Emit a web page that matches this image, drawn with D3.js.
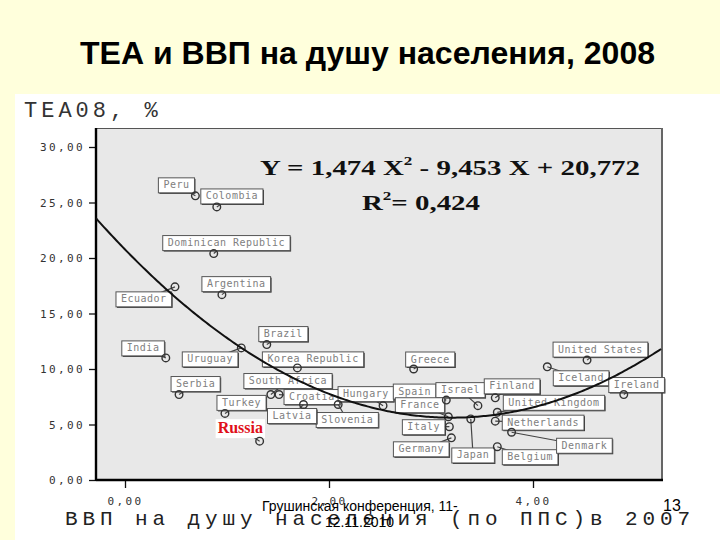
<!DOCTYPE html>
<html><head><meta charset="utf-8">
<script src="https://cdn.jsdelivr.net/npm/d3@7/dist/d3.min.js"></script>
<style>body{margin:0;background:#FFFFDC;} svg{display:block}</style>
</head><body>
<svg id="c" width="720" height="540"></svg>
<script>
// ---- data ----
const countries = ["Peru","Colombia","Dominican Republic","Argentina","Ecuador","Brazil","India","Uruguay","Korea Republic","Greece","United States","Serbia","South Africa","Croatia","Hungary","Slovenia","Latvia","Turkey","Russia","Iceland","Ireland","Spain","Israel","Finland","France","United Kingdom","Netherlands","Italy","Germany","Japan","Belgium","Denmark"];
const gdp = [0.69,0.90,0.87,0.95,0.49,1.39,0.40,1.14,1.69,2.83,4.53,0.53,1.43,1.51,2.53,2.09,1.75,0.98,1.32,4.14,4.89,3.15,3.46,3.63,3.17,3.65,3.63,3.18,3.20,3.39,3.65,3.79];
const tea = [25.6,24.6,20.4,16.7,17.4,12.2,11.0,11.9,10.1,10.0,10.8,7.7,7.7,7.7,6.7,6.8,6.8,6.0,3.5,10.2,7.7,7.2,6.7,7.4,5.7,6.1,5.3,4.8,3.8,5.5,3.0,4.3];
const yTicks = [0,5,10,15,20,25,30];
const xTicks = [0,2,4];
const fitCoef = [20.772, -9.453, 1.474]; // c0, c1, c2
const r2 = "0,424";
// ---- layout (label box offsets relative to point, px) ----
const labelDx = [-37,-16,-51,-20,-59,-8,-44,-59,-35,-8,-34,-8,-27,5,-45,-22,-36,-8,-44,6,-15,-53,-42,-11,-53,6,7,-47,-58,-19,5,45];
const labelDy = [-18,-18,-18,-18,5,-18,-17,4,-16,-17,-18,-18,-21,-5,-19,8,4,-18,-22,4,-17,-16,-23,-19,-19,-17,-6,-7,4,29,3,6];

const svg = d3.select("#c");
// slide white image area
svg.append("rect").attr("x",15).attr("y",94).attr("width",705).attr("height",446).attr("fill","#fff");

const plot = {l:96, r:662, t:128, b:480};
const x = d3.scaleLinear().domain([0,4]).range([125,533]);
const y = d3.scaleLinear().domain([0,30]).range([480,147]);

svg.append("rect").attr("x",plot.l).attr("y",plot.t).attr("width",plot.r-plot.l).attr("height",plot.b-plot.t)
  .attr("fill","#e8e8e8").attr("stroke","none");
svg.append("line").attr("x1",plot.l).attr("x2",plot.r).attr("y1",plot.t+0.5).attr("y2",plot.t+0.5).attr("stroke","#555").attr("stroke-width",1);
svg.append("line").attr("x1",plot.r).attr("x2",plot.r).attr("y1",plot.t).attr("y2",plot.b).attr("stroke","#666").attr("stroke-width",2);

const fmt = v => d3.format(".2f")(v).replace(".", ",");
const yAxis = svg.append("g").attr("transform",`translate(${plot.l},0)`)
  .call(d3.axisLeft(y).tickValues(yTicks).tickSize(7).tickPadding(4).tickFormat(fmt));
const xAxis = svg.append("g").attr("transform",`translate(0,${plot.b})`)
  .call(d3.axisBottom(x).tickValues(xTicks).tickSize(8).tickPadding(9).tickFormat(fmt));
[yAxis,xAxis].forEach(g=>{
  g.select(".domain").remove();
  g.selectAll(".tick line").attr("stroke","#111").attr("stroke-width",1.3);
  g.selectAll(".tick text").attr("font-family","DejaVu Sans Mono").attr("font-size",11)
    .attr("letter-spacing","2.4px").attr("fill","#333");
});
svg.append("line").attr("x1",plot.l).attr("x2",plot.l).attr("y1",plot.t).attr("y2",plot.b+1).attr("stroke","#000").attr("stroke-width",2.4);
svg.append("line").attr("x1",plot.l).attr("x2",plot.r+1).attr("y1",plot.b).attr("y2",plot.b).attr("stroke","#000").attr("stroke-width",2.4);

const pts = countries.map((c,i)=>({name:c, gx:gdp[i], ty:tea[i], dx:labelDx[i], dy:labelDy[i]}));

// labels
const lab = svg.append("g");
pts.forEach(p=>{
  const px = x(p.gx), py = y(p.ty);
  const g = lab.append("g");
  const isRu = p.name === "Russia";
  const t = g.append("text").text(p.name)
    .attr("font-family", isRu ? "Liberation Serif" : "DejaVu Sans Mono")
    .attr("font-size", isRu ? 16 : 10)
    .attr("font-weight", isRu ? "bold" : "normal")
    .attr("letter-spacing", isRu ? "0px" : "0.5px")
    .attr("fill", isRu ? "#e0101a" : "#808080");
  const tw = t.node().getComputedTextLength();
  const bw = tw + (isRu ? 4 : 10), bh = isRu ? 19 : 15;
  const bx = px + p.dx, by = py + p.dy;
  g.insert("line","text").attr("x1",bx+bw/2).attr("y1",by+bh/2).attr("x2",px).attr("y2",py)
    .attr("stroke","#444").attr("stroke-width",1.2);
  if(!isRu){
    g.insert("rect","text").attr("x",bx+1).attr("y",by+1).attr("width",bw).attr("height",bh).attr("fill","#333");
  }
  g.insert("rect","text").attr("x",bx).attr("y",by).attr("width",bw).attr("height",bh)
    .attr("fill","#fff").attr("stroke", isRu ? "none" : "#555").attr("stroke-width",1);
  t.attr("x", bx + (isRu ? 2 : 5)).attr("y", by + (isRu ? 14 : 10.5));
});

// points
svg.append("g").selectAll("circle").data(pts).join("circle")
  .attr("cx",d=>x(d.gx)).attr("cy",d=>y(d.ty)).attr("r",3.8)
  .attr("fill","none").attr("stroke","#333").attr("stroke-width",1.4);

// quadratic fit curve
const fx = v => fitCoef[0] + fitCoef[1]*v + fitCoef[2]*v*v;
const xs = d3.range(x.invert(plot.l), x.invert(plot.r)+0.001, 0.02);
const line = d3.line().x(v=>x(v)).y(v=>y(fx(v)));
svg.append("path").datum(xs).attr("d",line).attr("fill","none").attr("stroke","#111").attr("stroke-width",2);

// equation
const eq = svg.append("text").attr("x",260).attr("y",175).attr("font-family","Liberation Serif")
  .attr("font-weight","bold").attr("font-size",22).attr("fill","#111")
  .attr("textLength",380).attr("lengthAdjust","spacingAndGlyphs");
eq.append("tspan").text(`Y = ${String(fitCoef[2]).replace(".",",")} X`);
eq.append("tspan").text("2").attr("font-size",13).attr("dy",-10);
eq.append("tspan").text(`  - ${String(-fitCoef[1]).replace(".",",")} X + ${String(fitCoef[0]).replace(".",",")}`).attr("font-size",22).attr("dy",10);
const rr = svg.append("text").attr("x",362).attr("y",210).attr("font-family","Liberation Serif")
  .attr("font-weight","bold").attr("font-size",22).attr("fill","#111")
  .attr("textLength",118).attr("lengthAdjust","spacingAndGlyphs");
rr.append("tspan").text("R");
rr.append("tspan").text("2").attr("font-size",13).attr("dy",-10);
rr.append("tspan").text("= " + r2).attr("dy",10);

// axis titles
svg.append("text").attr("x",24).attr("y",117).text("TEA08, %")
  .attr("font-family","Liberation Mono").attr("font-size",22).attr("letter-spacing","4px").attr("fill","#333");
svg.append("text").attr("x",65).attr("y",525).text("ВВП на душу населения (по ППС)в 2007")
  .attr("font-family","Liberation Mono").attr("font-size",21).attr("letter-spacing","4.9px").attr("fill","#222");

// slide title & footer
svg.append("text").attr("x",80).attr("y",64).text("ТЕА и ВВП на душу населения, 2008")
  .attr("font-family","Liberation Sans").attr("font-weight","bold").attr("font-size",31).attr("fill","#000")
  .attr("textLength",575).attr("lengthAdjust","spacingAndGlyphs");
svg.append("text").attr("x",262).attr("y",511).text("Грушинская конференция, 11-")
  .attr("font-family","Liberation Sans").attr("font-size",14).attr("fill","#000");
svg.append("text").attr("x",325).attr("y",527).text("12.11.2010")
  .attr("font-family","Liberation Sans").attr("font-size",14).attr("fill","#000");
svg.append("text").attr("x",663).attr("y",511).text("13")
  .attr("font-family","Liberation Sans").attr("font-size",16).attr("fill","#000");
</script>
</body></html>
